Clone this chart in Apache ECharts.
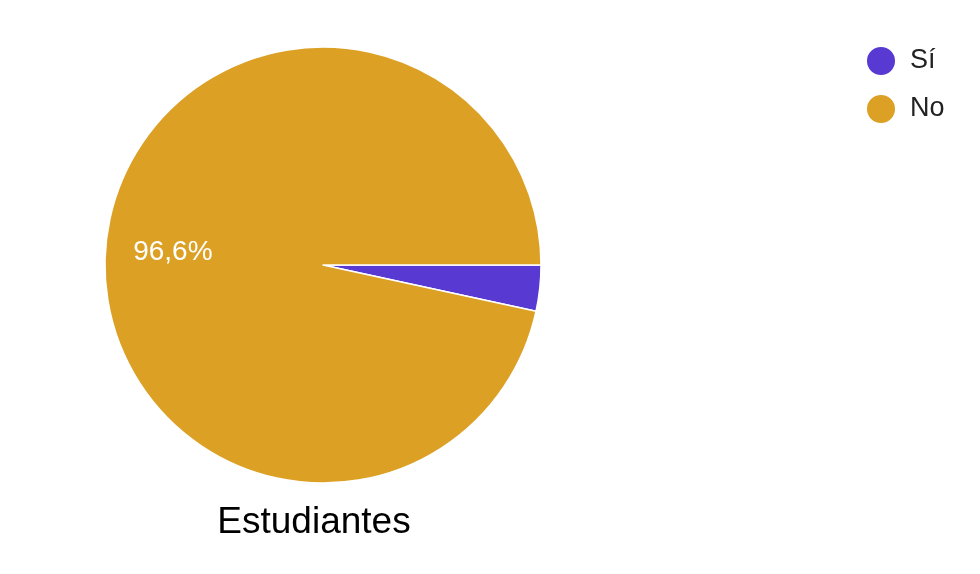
<!DOCTYPE html>
<html>
<head>
<meta charset="utf-8">
<script src="https://cdn.jsdelivr.net/npm/echarts@6/dist/echarts.min.js"></script>
<style>html,body{margin:0;padding:0;background:#fff;}#c{width:980px;height:574px;}</style>
</head>
<body>
<div id="c"></div>
<script>
const categories = ['Sí', 'No'];
const values = [3.4, 96.6];
const colors = ['#5839d1', '#dba024'];
const chartTitle = 'Estudiantes';

const FONT = '"Liberation Sans", Arial, sans-serif';
const chart = echarts.init(document.getElementById('c'));
const data = categories.map((n, i) => ({ name: n, value: values[i], itemStyle: { color: colors[i] } }));
const labelData = categories.map((n, i) => ({
  name: n, value: values[i],
  itemStyle: { color: 'rgba(0,0,0,0)', borderWidth: 0 },
  label: { show: values[i] > 5 }
}));
chart.setOption({
  animation: false,
  title: {
    text: chartTitle, left: 309, top: 499, textAlign: 'center',
    textStyle: { fontFamily: FONT, fontSize: 37, fontWeight: 'normal', color: '#000' }
  },
  legend: {
    data: categories, orient: 'vertical', left: 860, top: 40,
    icon: 'circle', itemWidth: 30, itemHeight: 30, itemGap: 16,
    textStyle: { fontFamily: FONT, fontSize: 27, color: '#222', padding: [0, 0, 0, 9] }
  },
  series: [
    {
      type: 'pie', center: [323, 265], radius: [0, 218], startAngle: 0, clockwise: true,
      label: { show: false }, labelLine: { show: false },
      itemStyle: { borderColor: '#fff', borderWidth: 1.5 },
      emphasis: { disabled: true },
      data: data
    },
    {
      type: 'pie', center: [323, 268], radius: [78, 218], startAngle: 0, clockwise: true,
      silent: true, legendHoverLink: false, emphasis: { disabled: true },
      label: {
        position: 'inside', color: '#fff', fontFamily: FONT, fontSize: 28,
        formatter: p => p.value.toFixed(1).replace('.', ',') + '%'
      },
      labelLine: { show: false },
      data: labelData
    }
  ]
});
</script>
</body>
</html>
